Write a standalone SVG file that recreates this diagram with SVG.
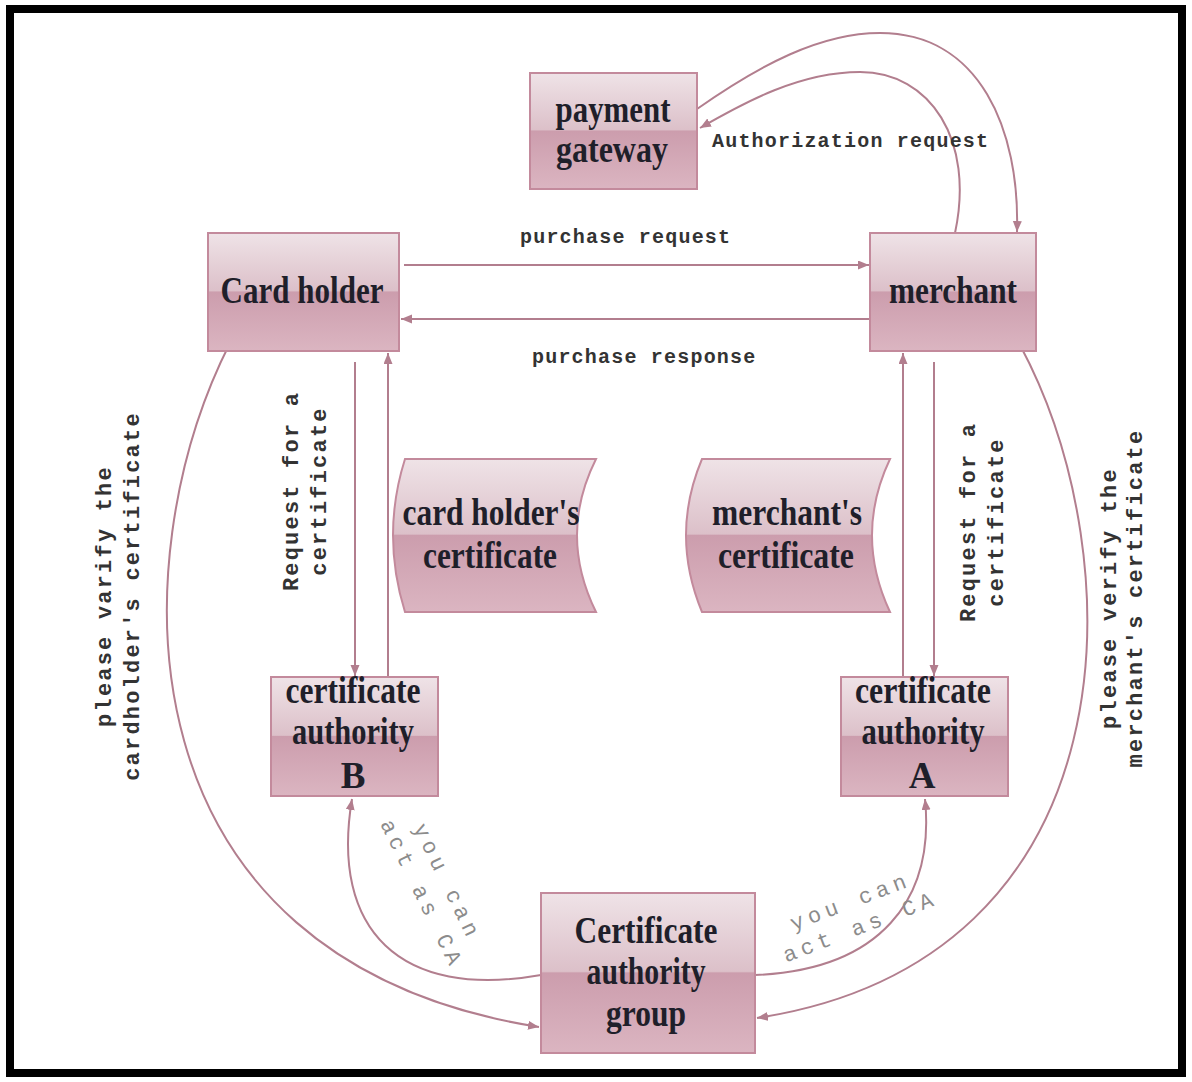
<svg xmlns="http://www.w3.org/2000/svg" width="1192" height="1082" viewBox="0 0 1192 1082">
<defs>
<linearGradient id="g" x1="0" y1="0" x2="0" y2="1">
<stop offset="0" stop-color="#efe3e7"/>
<stop offset="0.49" stop-color="#dcc0c9"/>
<stop offset="0.5" stop-color="#cc9dad"/>
<stop offset="1" stop-color="#dbb5c1"/>
</linearGradient>
<marker id="ah" markerUnits="userSpaceOnUse" markerWidth="12" markerHeight="10" refX="11" refY="4.5" orient="auto">
<path d="M0,0 L11,4.5 L0,9 z" fill="#b27e8e"/>
</marker>
<style>
.n{fill:url(#g);stroke:#c38a9c;stroke-width:2}
.t{font-family:"Liberation Serif","Times New Roman",serif;font-weight:bold;font-size:37px;fill:#1f1f2a;text-anchor:middle}
.c{fill:none;stroke:#b27e8e;stroke-width:2;marker-end:url(#ah)}
.m{font-family:"Liberation Mono","Courier New",monospace;font-weight:bold;font-size:20px;fill:#333;letter-spacing:1.2px}
.v{font-family:"Liberation Mono","Courier New",monospace;font-weight:bold;font-size:22px;fill:#333;letter-spacing:2.2px;text-anchor:middle}
.y{font-family:"Liberation Mono","Courier New",monospace;font-size:22px;fill:#8c8c8c;letter-spacing:5px;text-anchor:middle}
</style>
</defs>
<rect x="0" y="0" width="1192" height="1082" fill="#fff"/>
<rect x="10" y="9" width="1172" height="1064" fill="none" stroke="#000" stroke-width="8"/>

<g id="connectors">
<path class="c" d="M404,265 L869,265"/>
<path class="c" d="M875,319 L401,319"/>
<path class="c" d="M955,233 C975,140 930,72 860,72 C800,72 745,102 700,128"/>
<path class="c" d="M697,109 C760,65 820,33 880,33 C980,33 1020,130 1017,232"/>
<path class="c" d="M355,362 L355,676"/>
<path class="c" d="M388,677 L388,353"/>
<path class="c" d="M934,362 L934,676"/>
<path class="c" d="M903,677 L903,353"/>
<path class="c" d="M230,343 C120,560 115,960 539,1027"/>
<path class="c" d="M1020,345 C1135,560 1135,960 757,1018"/>
<path class="c" d="M541,975 C400,1000 330,930 352,799"/>
<path class="c" d="M755,975 C880,970 935,900 925,799"/>
<text class="m" x="712" y="147">Authorization request</text>
<text class="m" x="520" y="243">purchase request</text>
<text class="m" x="532" y="363">purchase response</text>
<text class="v" transform="translate(298,491) rotate(-90)"><tspan x="0" y="0">Request for a</tspan><tspan x="0" y="28">certificate</tspan></text>
<text class="v" transform="translate(975,522) rotate(-90)"><tspan x="0" y="0">Request for a</tspan><tspan x="0" y="28">certificate</tspan></text>
<text class="v" transform="translate(111,596) rotate(-90)"><tspan x="0" y="0">please varify the</tspan><tspan x="0" y="28">cardholder's certificate</tspan></text>
<text class="v" transform="translate(1116,598) rotate(-90)"><tspan x="0" y="0">please verify the</tspan><tspan x="0" y="26">merchant's certificate</tspan></text>
<text class="y" transform="translate(441,885) rotate(64)"><tspan x="0" y="0">you can</tspan><tspan x="0" y="28">act as CA</tspan></text>
<text class="y" transform="translate(853,908) rotate(-21)"><tspan x="0" y="0">you can</tspan><tspan x="0" y="27">act as CA</tspan></text>
</g>

<g id="payment-gateway">
<rect class="n" x="530" y="73" width="167" height="116"/>
<text class="t" x="613" y="122" textLength="115" lengthAdjust="spacingAndGlyphs">payment</text>
<text class="t" x="612" y="162" textLength="112" lengthAdjust="spacingAndGlyphs">gateway</text>
</g>

<g id="card-holder">
<rect class="n" x="208" y="233" width="191" height="118"/>
<text class="t" x="302" y="303" textLength="163" lengthAdjust="spacingAndGlyphs">Card holder</text>
</g>

<g id="merchant">
<rect class="n" x="870" y="233" width="166" height="118"/>
<text class="t" x="953" y="303" textLength="128" lengthAdjust="spacingAndGlyphs">merchant</text>
</g>

<g id="card-holders-certificate">
<path class="n" d="M405,459 L596,459 Q558,535 596,612 L405,612 Q381,535 405,459 Z"/>
<text class="t" x="491" y="525" textLength="177" lengthAdjust="spacingAndGlyphs">card holder's</text>
<text class="t" x="490" y="568" textLength="134" lengthAdjust="spacingAndGlyphs">certificate</text>
</g>

<g id="merchants-certificate">
<path class="n" d="M702,459 L890,459 Q854,535 890,612 L702,612 Q670,535 702,459 Z"/>
<text class="t" x="787" y="525" textLength="150" lengthAdjust="spacingAndGlyphs">merchant's</text>
<text class="t" x="786" y="568" textLength="136" lengthAdjust="spacingAndGlyphs">certificate</text>
</g>

<g id="certificate-authority-b">
<rect class="n" x="271" y="677" width="167" height="119"/>
<text class="t" x="353" y="703" textLength="135" lengthAdjust="spacingAndGlyphs">certificate</text>
<text class="t" x="353" y="744" textLength="122" lengthAdjust="spacingAndGlyphs">authority</text>
<text class="t" x="353" y="788">B</text>
</g>

<g id="certificate-authority-a">
<rect class="n" x="841" y="677" width="167" height="119"/>
<text class="t" x="923" y="703" textLength="136" lengthAdjust="spacingAndGlyphs">certificate</text>
<text class="t" x="923" y="744" textLength="123" lengthAdjust="spacingAndGlyphs">authority</text>
<text class="t" x="922" y="788">A</text>
</g>

<g id="certificate-authority-group">
<rect class="n" x="541" y="893" width="214" height="160"/>
<text class="t" x="646" y="943" textLength="143" lengthAdjust="spacingAndGlyphs">Certificate</text>
<text class="t" x="646" y="984" textLength="119" lengthAdjust="spacingAndGlyphs">authority</text>
<text class="t" x="646" y="1026" textLength="80" lengthAdjust="spacingAndGlyphs">group</text>
</g>
</svg>
